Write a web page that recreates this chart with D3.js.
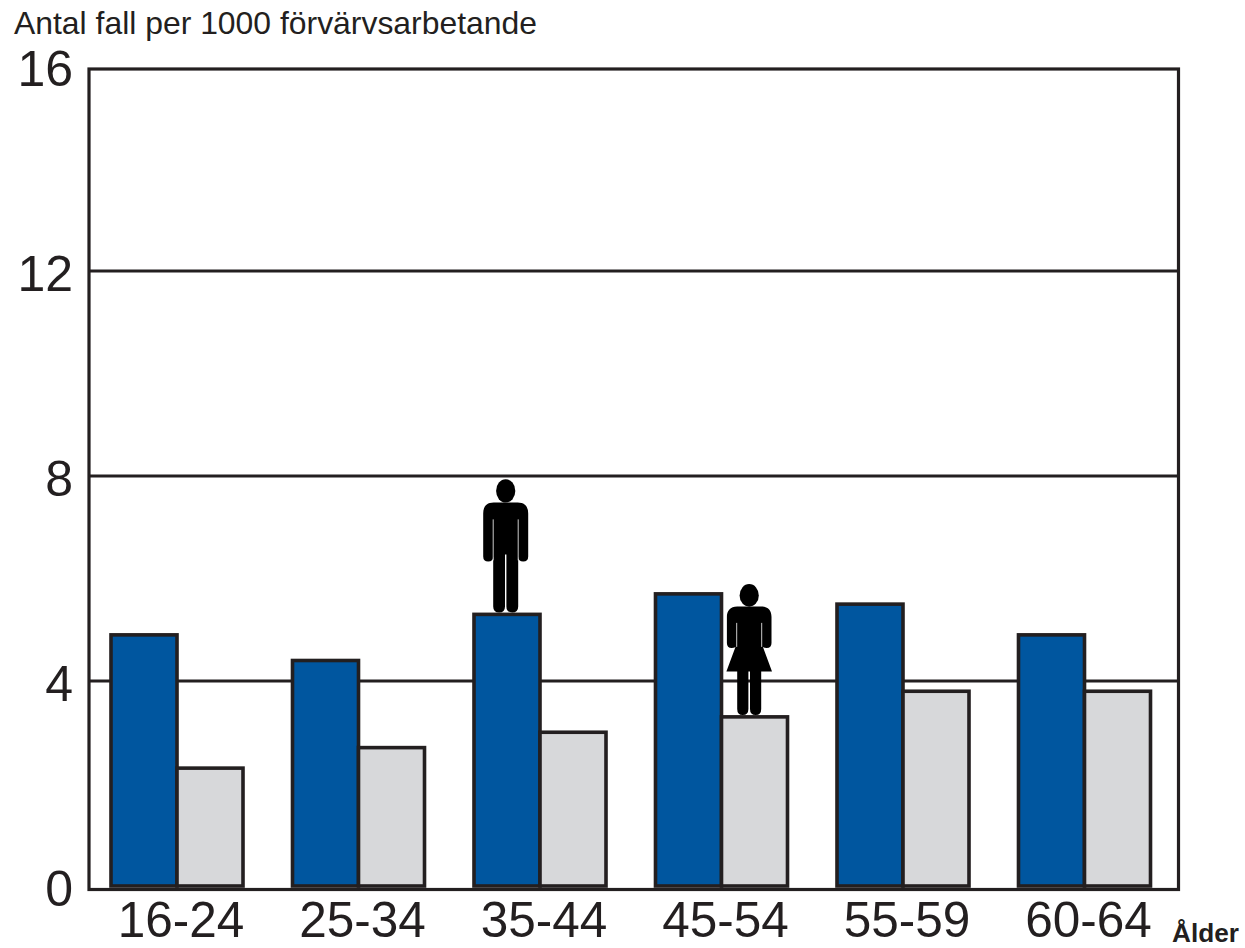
<!DOCTYPE html>
<html><head><meta charset="utf-8">
<script src="https://cdnjs.cloudflare.com/ajax/libs/d3/7.8.5/d3.min.js"></script>
<style>html,body{margin:0;padding:0;background:#fff}svg{display:block}text{font-family:"Liberation Sans",Arial,sans-serif;fill:#231f20}</style>
</head><body><svg id="c" width="1245" height="948"></svg>
<script>
const ageGroups = ["16-24","25-34","35-44","45-54","55-59","60-64"];
const menValues = [4.9,4.4,5.3,5.7,5.5,4.9];
const womenValues = [2.3,2.7,3.0,3.3,3.8,3.8];
const yTicks = [0,4,8,12,16];
const seriesNames = ["men","women"];
const seriesColors = ["#00569f","#d7d8da"];
const ink = "#231f20";

const svg = d3.select("#c");
const y = d3.scaleLinear().domain([0,16]).range([886,66]);
const x0 = d3.scaleBand().domain(ageGroups).range([111,1150.5]).paddingInner(0.2727).paddingOuter(0);
const x1 = d3.scaleBand().domain(seriesNames).range([0,x0.bandwidth()]);
const color = d3.scaleOrdinal().domain(seriesNames).range(seriesColors);

// gridlines
svg.append("g").selectAll("line").data(yTicks.filter(t=>t>0&&t<16)).join("line")
  .attr("x1",89).attr("x2",1178).attr("y1",d=>y(d)).attr("y2",d=>y(d))
  .attr("stroke",ink).attr("stroke-width",3);

// frame
svg.append("rect").attr("x",89).attr("y",69).attr("width",1089.5).attr("height",820.5)
  .attr("fill","none").attr("stroke",ink).attr("stroke-width",3.2);

// bars
const groups = svg.append("g").selectAll("g").data(ageGroups).join("g")
  .attr("transform",d=>`translate(${x0(d)},0)`);
groups.selectAll("rect").data((d,i)=>[{k:"men",v:menValues[i]},{k:"women",v:womenValues[i]}]).join("rect")
  .attr("x",d=>x1(d.k)).attr("width",x1.bandwidth())
  .attr("y",d=>y(d.v)).attr("height",d=>y(0)-y(d.v))
  .attr("fill",d=>color(d.k)).attr("stroke",ink).attr("stroke-width",3.6);

// y labels
svg.append("g").selectAll("text").data(yTicks).join("text")
  .attr("x",73).attr("y",d=>y(d)+19.5).attr("text-anchor","end")
  .attr("font-size",50).text(d=>d);

// x labels
svg.append("g").selectAll("text").data(ageGroups).join("text")
  .attr("x",d=>x0(d)+x0.bandwidth()/2+4).attr("y",937).attr("text-anchor","middle")
  .attr("font-size",49.5).text(d=>d);

svg.append("text").attr("x",14).attr("y",34).attr("font-size",31.9).text("Antal fall per 1000 förvärvsarbetande");
svg.append("text").attr("x",1172).attr("y",942).attr("font-size",26.2).attr("font-weight","bold").text("Ålder");

// pictograms, local origin = between the feet
const manPath = "M-12,-110 C-19,-110 -22.5,-106 -22.5,-99 L-22.5,-56 Q-22.5,-51 -17.5,-51 Q-12.5,-51 -12.5,-56 L-12.5,-58 L-12.5,-6 Q-12.5,0 -6.5,0 Q-0.7,0 -0.7,-6 L-0.7,-58 L0.7,-58 L0.7,-6 Q0.7,0 6.5,0 Q12.5,0 12.5,-6 L12.5,-58 L12.5,-56 Q12.5,-51 17.5,-51 Q22.5,-51 22.5,-56 L22.5,-99 C22.5,-106 19,-110 12,-110 Z";
const womanPath = "M-12,-108.3 C-19,-108.3 -22.3,-104 -22.3,-98 L-22.3,-72 Q-22.3,-67 -17.5,-67 Q-13,-67 -13,-70 L-22.8,-43.3 L-12,-43.3 L-12,-6 Q-12,0 -6.5,0 Q-0.8,0 -0.8,-6 L-0.8,-43.3 L0.8,-43.3 L0.8,-6 Q0.8,0 6.5,0 Q12,0 12,-6 L12,-43.3 L22.8,-43.3 L13,-70 Q13,-67 17.5,-67 Q22.3,-67 22.3,-72 L22.3,-98 C22.3,-104 19,-108.3 12,-108.3 Z";

function figure(path,cx,footY,headCy,ry,slitTop,slitBottom){
  const g = svg.append("g").attr("transform",`translate(${cx},${footY})`);
  g.append("path").attr("d",path).attr("fill","#000");
  g.append("ellipse").attr("cx",0).attr("cy",headCy).attr("rx",9.6).attr("ry",ry).attr("fill","#000");
  g.selectAll("line").data([-12.5,12.5]).join("line")
    .attr("x1",d=>d).attr("x2",d=>d).attr("y1",slitTop).attr("y2",slitBottom)
    .attr("stroke","#fff").attr("stroke-width",0.8);
}
const iMan = ageGroups.indexOf("35-44"), iWoman = ageGroups.indexOf("45-54");
figure(manPath, x0(ageGroups[iMan])+x1("men")+x1.bandwidth()/2-1.3, y(menValues[iMan])-2, -121.5, 11.7, -93, -52);
figure(womanPath, x0(ageGroups[iWoman])+x1("women")+x1.bandwidth()/2-5.3, y(womenValues[iWoman])-2, -119.5, 11.3, -92, -68);
</script></body></html>
